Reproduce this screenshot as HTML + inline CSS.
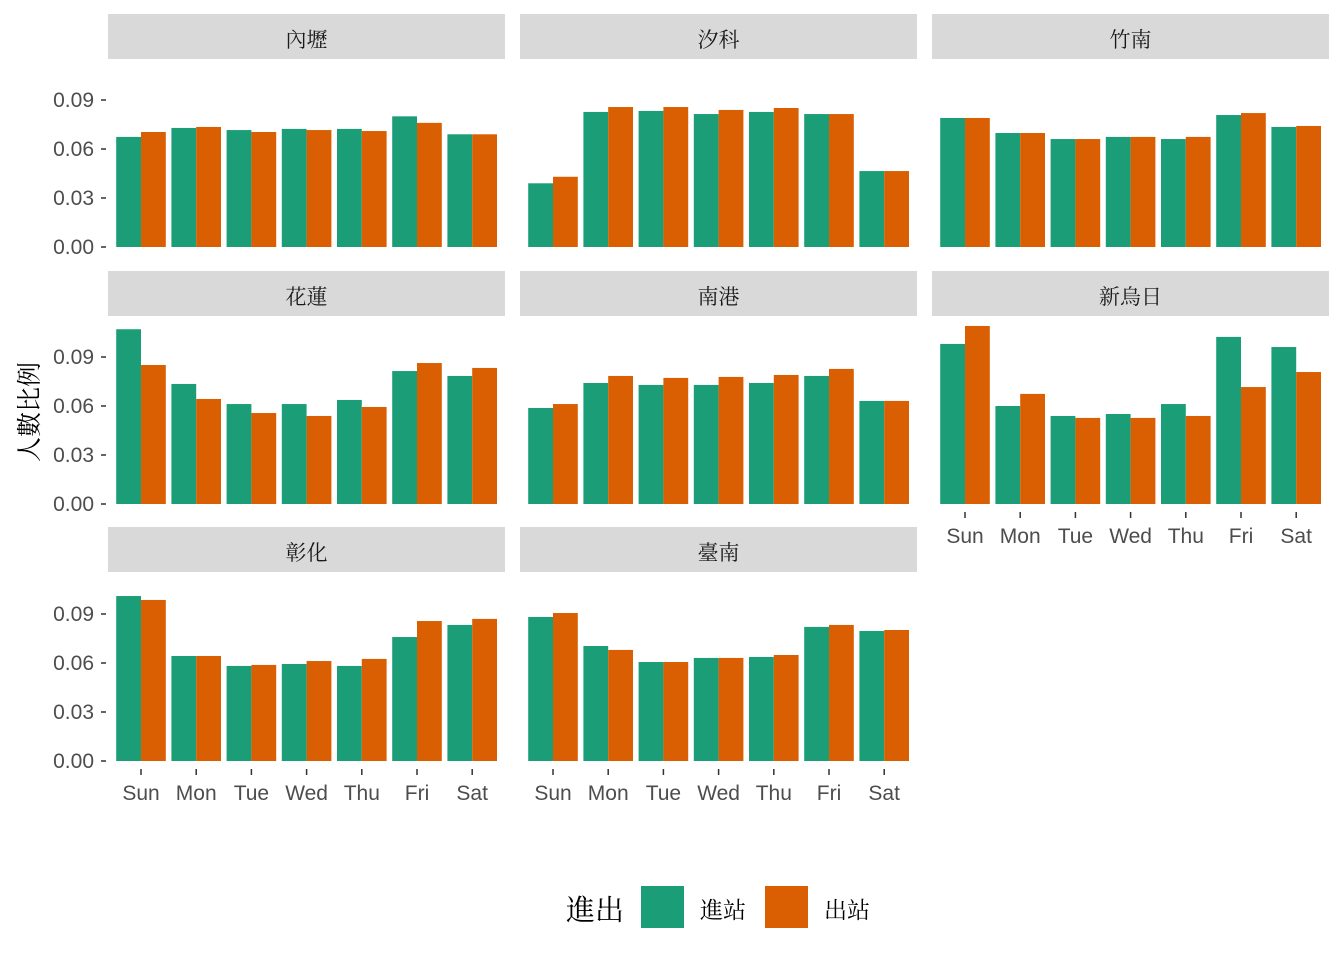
<!DOCTYPE html>
<html><head><meta charset="utf-8"><style>
body{margin:0;background:#fff}
svg{display:block}
text{font-family:"Liberation Sans","Noto Sans CJK TC",sans-serif}
text.cjk{font-family:"Liberation Serif","Noto Serif CJK SC",serif}
</style></head><body>
<svg id="c" width="1344" height="960" xmlns="http://www.w3.org/2000/svg"></svg>
<script>
const days=["Sun","Mon","Tue","Wed","Thu","Fri","Sat"];
const stations=["內壢","汐科","竹南","花蓮","南港","新烏日","彰化","臺南"];
const inVals=[
[0.0674,0.0729,0.0716,0.0723,0.0723,0.0800,0.0690],
[0.0390,0.0827,0.0833,0.0814,0.0827,0.0814,0.0465],
[0.0790,0.0698,0.0661,0.0674,0.0661,0.0808,0.0735],
[0.1070,0.0735,0.0612,0.0612,0.0637,0.0814,0.0784],
[0.0588,0.0741,0.0729,0.0729,0.0741,0.0784,0.0631],
[0.0980,0.0600,0.0539,0.0551,0.0612,0.1023,0.0961],
[0.1010,0.0643,0.0582,0.0594,0.0582,0.0759,0.0833],
[0.0882,0.0704,0.0606,0.0631,0.0637,0.0821,0.0796]];
const outVals=[
[0.0704,0.0735,0.0704,0.0716,0.0710,0.0760,0.0690],
[0.0430,0.0857,0.0857,0.0839,0.0851,0.0814,0.0465],
[0.0790,0.0698,0.0661,0.0674,0.0674,0.0820,0.0741],
[0.0851,0.0643,0.0557,0.0539,0.0594,0.0863,0.0833],
[0.0612,0.0784,0.0772,0.0778,0.0790,0.0827,0.0631],
[0.1090,0.0674,0.0527,0.0527,0.0539,0.0716,0.0808],
[0.0986,0.0643,0.0588,0.0612,0.0625,0.0857,0.0870],
[0.0906,0.0680,0.0606,0.0631,0.0649,0.0833,0.0802]];
const yTicks=[0,0.03,0.06,0.09];
const yLabels=["0.00","0.03","0.06","0.09"];
const series=[{name:"進站",vals:inVals,color:"#1B9E77"},{name:"出站",vals:outVals,color:"#D95F02"}];

const svg=document.getElementById('c');
const NS="http://www.w3.org/2000/svg";
function mk(tag,attrs,parent){const e=document.createElementNS(NS,tag);for(const k in attrs)e.setAttribute(k,attrs[k]);(parent||svg).appendChild(e);return e;}
const colX=[108,520,932], pw=397;
const rowTop=[14,271,527], baseY=[247,504,761];
const pxPerUnit=49/0.03;
const xPos=(i,c)=>colX[c]+33+i*55.2;
const yPos=(v,r)=>baseY[r]-v*pxPerUnit;

stations.forEach((st,s)=>{
  const r=Math.floor(s/3), c=s%3;
  const g=mk('g',{});
  
  
  const strip=mk('rect',{x:colX[c],y:rowTop[r],width:pw,height:45,fill:"#D9D9D9"},g);
  
  
  const t=mk('text',{class:'cjk',x:colX[c]+pw/2,y:rowTop[r]+33,'text-anchor':'middle','font-size':21,fill:"#1A1A1A"},g);
  t.textContent=st;
  
  
  days.forEach((d,i)=>{
    series.forEach((se,k)=>{
      const v=se.vals[s][i];
      const x=xPos(i,c)-24.8+k*24.8;
      const b=mk('rect',{x:x,y:yPos(v,r),width:24.8,height:v*pxPerUnit,fill:se.color},g);
      
      
    });
  });
  if(c===0){
    yTicks.forEach((tv,j)=>{
      const y=yPos(tv,r);
      mk('line',{x1:101,x2:106,y1:y,y2:y,stroke:"#333",'stroke-width':1.5},g);
      const l=mk('text',{x:94,y:y+7,'text-anchor':'end','font-size':21,fill:"#4D4D4D"},g);
      l.textContent=yLabels[j];
      
      
    });
  }
  if(r===2||s===5){
    const ty=baseY[r]+8;
    days.forEach((d,i)=>{
      const x=xPos(i,c);
      mk('line',{x1:x,x2:x,y1:ty,y2:ty+6,stroke:"#333",'stroke-width':1.5},g);
      const l=mk('text',{x:x,y:ty+31,'text-anchor':'middle','font-size':21,fill:"#4D4D4D"},g);
      l.textContent=d;
      
      
    });
  }
});
const yt=mk('text',{class:'cjk',x:0,y:0,transform:'translate(38,412) rotate(-90)','text-anchor':'middle','font-size':25,fill:"#000"});
yt.textContent="人數比例";


const lt=mk('text',{class:'cjk',x:566,y:920,'font-size':29,fill:"#000"});
lt.textContent="進出";


const lx=[641,765];
series.forEach((se,k)=>{
  const r=mk('rect',{x:lx[k],y:886,width:43,height:42,fill:se.color});
  
  
  const l=mk('text',{class:'cjk',x:lx[k]+59,y:918,'font-size':23,fill:"#000"});
  l.textContent=se.name;
  
  
});
</script>
</body></html>
